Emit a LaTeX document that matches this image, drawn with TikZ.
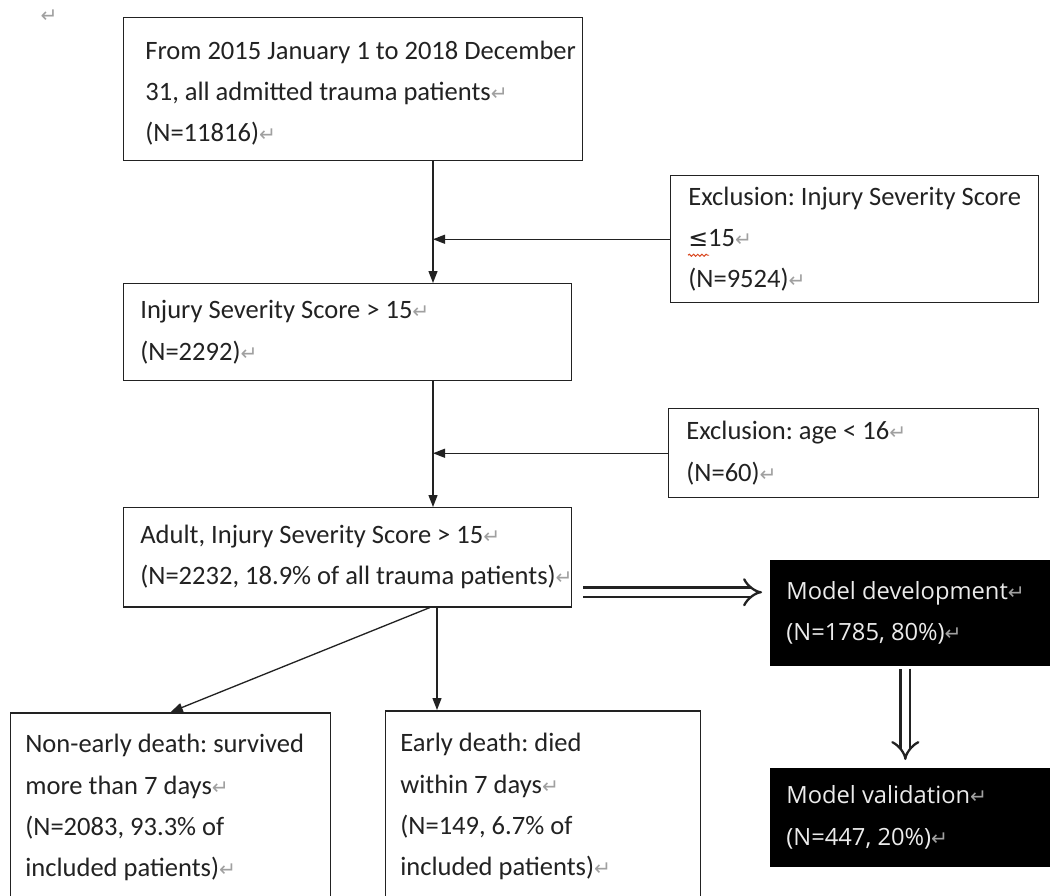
\documentclass[tikz,border=0pt]{standalone}
\usepackage{fontspec}
\setmainfont{Carlito}
\newfontfamily\symfont{DejaVu Sans}
\newfontfamily\modfont{Open Sans}
\usepackage{xcolor}
\definecolor{cInk}  {HTML}{222222}
\definecolor{cMark} {HTML}{A0A0A0}
\definecolor{cWave} {HTML}{D9461E}
\usepackage{tikz}
\usetikzlibrary{arrows.meta, positioning, decorations.pathmorphing}
\frenchspacing
\newcommand{\retmark}{{\symfont\fontsize{11.5}{10}\selectfont\color{cMark}↵}}
\tikzset{
  blk/.style  = {rectangle, draw=cInk, line width=0.85pt, anchor=north west,
                 minimum width=#1, inner sep=0pt},
  blk/.default = 9cm,
  dark/.style = {rectangle, draw=black, fill=black, anchor=north west,
                 minimum width=5.8cm, inner sep=0pt},
  txt/.style  = {align=left, inner sep=0pt, anchor=west, text=cInk,
                 font=\fontsize{15.1}{23.5}\selectfont},
  wtxt/.style = {align=left, inner sep=0pt, anchor=west, text=white!92!black,
                 font=\modfont\fontsize{13.5}{23.5}\selectfont},
  arr/.style  = {-{Triangle[length=0.24cm, width=0.18cm]}, line width=0.75pt, draw=cInk},
  dbl/.style  = {double=white, double distance=0.15cm, line width=1.3pt,
                 -{Implies}, draw=cInk},
}

\begin{document}
\begin{tikzpicture}
  \clip (0,0) rectangle (21,-17.92);
  \fill[white] (0,0) rectangle (21,-17.92);

  \node[anchor=center] (mark) at (0.98,-0.32) {\retmark};

  %% Main column
  \node[blk=9.18cm, minimum height=2.86cm] (src)   at (2.46,-0.34)  {};
  \node[blk=8.96cm, minimum height=1.94cm] (iss)   at (2.46,-5.66)  {};
  \node[blk=8.96cm, minimum height=1.98cm] (adult) at (2.46,-10.14) {};

  %% Exclusions
  \node[blk=7.36cm, minimum height=2.54cm] (exiss) at (13.40,-3.50) {};
  \node[blk=7.40cm, minimum height=1.78cm] (exage) at (13.36,-8.16) {};

  %% Outcomes
  \node[blk=6.40cm, minimum height=3.80cm] (late)  at (0.20,-14.24) {};
  \node[blk=6.30cm, minimum height=3.84cm] (early) at (7.70,-14.20) {};

  %% Model split
  \node[dark, minimum height=2.10cm] (dev) at (15.40,-11.20) {};
  \node[dark, minimum height=1.96cm] (val) at (15.40,-15.36) {};

  %% Box texts
  \node[txt, right=0.44cm of src.west, yshift=-0.08cm] (srct)
        {From 2015 January 1 to 2018 December\\
         31, all admitted trauma patients\retmark\\
         (N=11816)\retmark};
  \node[txt, right=0.36cm of exiss.west] (exisst)
        {Exclusion: Injury Severity Score\\
         {\symfont\fontsize{13.5}{12}\selectfont ≤}15\retmark\\
         (N=9524)\retmark};
  \node[txt, right=0.34cm of iss.west] (isst)
        {Injury Severity Score > 15\retmark\\
         (N=2292)\retmark};
  \node[txt, right=0.36cm of exage.west] (exaget)
        {Exclusion: age < 16\retmark\\
         (N=60)\retmark};
  \node[txt, right=0.34cm of adult.west] (adultt)
        {Adult, Injury Severity Score > 15\retmark\\
         (N=2232, 18.9\% of all trauma patients)\retmark};
  \node[txt, right=0.30cm of late.west] (latet)
        {Non-early death: survived\\
         more than 7 days\retmark\\
         (N=2083, 93.3\% of\\
         included patients)\retmark};
  \node[txt, right=0.30cm of early.west] (earlyt)
        {Early death: died\\
         within 7 days\retmark\\
         (N=149, 6.7\% of\\
         included patients)\retmark};
  \node[wtxt, right=0.32cm of dev.west] (devt)
        {Model development\retmark\\
         (N=1785, 80\%)\retmark};
  \node[wtxt, right=0.32cm of val.west] (valt)
        {Model validation\retmark\\
         (N=447, 20\%)\retmark};

  %% spell-check squiggle under the sign
  \draw[cWave, line width=0.55pt, decorate,
        decoration={snake, amplitude=0.6pt, segment length=2.4pt}]
        ([yshift=-0.32cm]exisst.west) -- ++(0.42,0);

  %% Flow
  \coordinate (spine) at (8.66,0);
  \draw[arr] (src.south -| spine) -- (iss.north -| spine);
  \draw[arr] (exiss.west) -- (exiss.west -| spine);
  \draw[arr] (iss.south -| spine) -- (adult.north -| spine);
  \draw[arr] (exage.west) -- (exage.west -| spine);
  \draw[arr] ([xshift=-0.06cm]adult.south -| spine) -- (late.north);
  \draw[arr] ([xshift=0.08cm]adult.south -| spine) -- ([xshift=0.08cm]early.north -| spine);

  %% Split into model sets
  \draw[dbl] ([xshift=0.22cm, yshift=-0.7cm]adult.east)
          -- ([xshift=-0.16cm, yshift=-0.7cm]adult.east -| dev.west);
  \draw[dbl] ([xshift=-0.2cm, yshift=-0.06cm]dev.south)
          -- ([xshift=-0.2cm, yshift=0.16cm]val.north);

\end{tikzpicture}
\end{document}
